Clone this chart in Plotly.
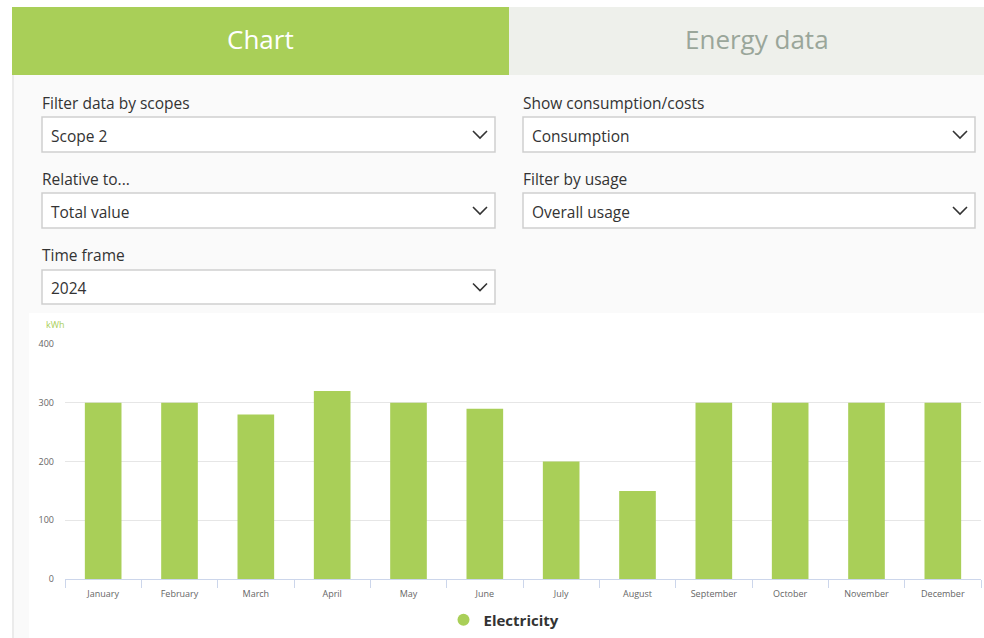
import plotly.graph_objects as go

W, H = 984, 638

months = ["January", "February", "March", "April", "May", "June", "July",
          "August", "September", "October", "November", "December"]
electricity_kwh = [300, 300, 280, 320, 300, 290, 200, 150, 300, 300, 300, 300]
y_ticks = [0, 100, 200, 300, 400]

tab_labels = ["Chart", "Energy data"]
filter_labels = ["Filter data by scopes", "Show consumption/costs",
                 "Relative to...", "Filter by usage", "Time frame"]
filter_values = ["Scope 2", "Consumption", "Total value", "Overall usage", "2024"]

GREEN = "#a9cf58"
UI_FONT = "Open Sans"


def X(px):
    return px / W


def Y(py):
    return 1 - py / H


shapes = []
annotations = []


def rect(x0, y0, x1, y1, fill, line_color=None, line_width=0):
    shapes.append(dict(type="rect", xref="paper", yref="paper",
                       x0=X(x0), x1=X(x1), y0=Y(y1), y1=Y(y0),
                       fillcolor=fill,
                       line=dict(color=line_color or fill, width=line_width),
                       layer="below"))


def text(px, py, s, size, color, anchor="left", family=UI_FONT, weight=None):
    f = dict(size=size, color=color, family=family)
    if weight:
        f["weight"] = weight
    annotations.append(dict(xref="paper", yref="paper", x=X(px), y=Y(py),
                            text=s, showarrow=False, xanchor=anchor,
                            yanchor="middle", font=f))


# page background areas
rect(14, 75, 984, 638, "#fafafa")
rect(12, 75, 14, 638, "#ebebeb")
rect(29, 313, 984, 638, "#ffffff")

# tabs
rect(12, 7, 509, 75, GREEN)
rect(509, 7, 984, 75, "#eef0eb")
text(260, 39, tab_labels[0], 26, "#ffffff", anchor="center")
text(757, 39, tab_labels[1], 26, "#9aa69a", anchor="center")

# dropdowns
boxes = [
    (42, 495, 103, 117, 152),
    (523, 975, 103, 117, 152),
    (42, 495, 179, 193, 228),
    (523, 975, 179, 193, 228),
    (42, 495, 255, 270, 304),
]
for (bx0, bx1, ly, by0, by1), lab, val in zip(boxes, filter_labels, filter_values):
    text(bx0 - 2, ly, lab, 15.5, "#333333")
    shapes.append(dict(type="rect", xref="paper", yref="paper",
                       x0=X(bx0), x1=X(bx1), y0=Y(by1), y1=Y(by0),
                       fillcolor="#ffffff",
                       line=dict(color="#cfcfcf", width=1.5), layer="below"))
    text(bx0 + 7, (by0 + by1) / 2 + 1, val, 15.5, "#333333")
    cx = bx1 - 15
    cy = (by0 + by1) / 2
    shapes.append(dict(type="path", xref="paper", yref="paper",
                       path=f"M {X(cx-7)} {Y(cy-3.5)} L {X(cx)} {Y(cy+3.5)} L {X(cx+7)} {Y(cy-3.5)}",
                       line=dict(color="#333333", width=1.6)))

# unit label
text(44, 324, "kWh", 9, GREEN)

fig = go.Figure()
fig.add_trace(go.Bar(x=months, y=electricity_kwh, marker=dict(color=GREEN, line=dict(width=0)),
                     width=0.48, showlegend=False, hoverinfo="x+y"))
fig.add_trace(go.Scatter(x=[None], y=[None], mode="markers", name="Electricity",
                         marker=dict(color=GREEN, size=10, symbol="circle")))

fig.update_layout(
    width=W, height=H,
    margin=dict(l=0, r=0, t=0, b=0, pad=0, autoexpand=False),
    paper_bgcolor="#ffffff",
    plot_bgcolor="rgba(0,0,0,0)",
    shapes=shapes,
    annotations=annotations,
    bargap=0.52,
    showlegend=True,
    legend=dict(orientation="h", x=X(504), xanchor="center", y=Y(620), yanchor="middle",
                font=dict(size=15, color="#333333", family=UI_FONT, weight="bold"),
                bgcolor="rgba(0,0,0,0)", itemsizing="constant", itemwidth=30),
    xaxis=dict(domain=[X(65), X(981)], showgrid=False, showline=True, automargin=False,
               linecolor="#ccd6eb", linewidth=1, ticks="outside", tickson="boundaries",
               tickcolor="#ccd6eb", ticklen=8, ticklabelstandoff=6,
               tickfont=dict(size=9, color="#666666", family=UI_FONT),
               fixedrange=True),
    yaxis=dict(domain=[Y(579), Y(344)], range=[0, 400], tickvals=y_ticks, automargin=False,
               showgrid=True, gridcolor="#e6e6e6", gridwidth=1, zeroline=False,
               showline=False, ticks="", ticklabelstandoff=10,
               tickfont=dict(size=9, color="#666666", family=UI_FONT),
               fixedrange=True),
)

fig.write_html("out.html", config={"displayModeBar": False},
               post_script="document.body.style.margin='0';document.body.style.overflow='hidden';")
